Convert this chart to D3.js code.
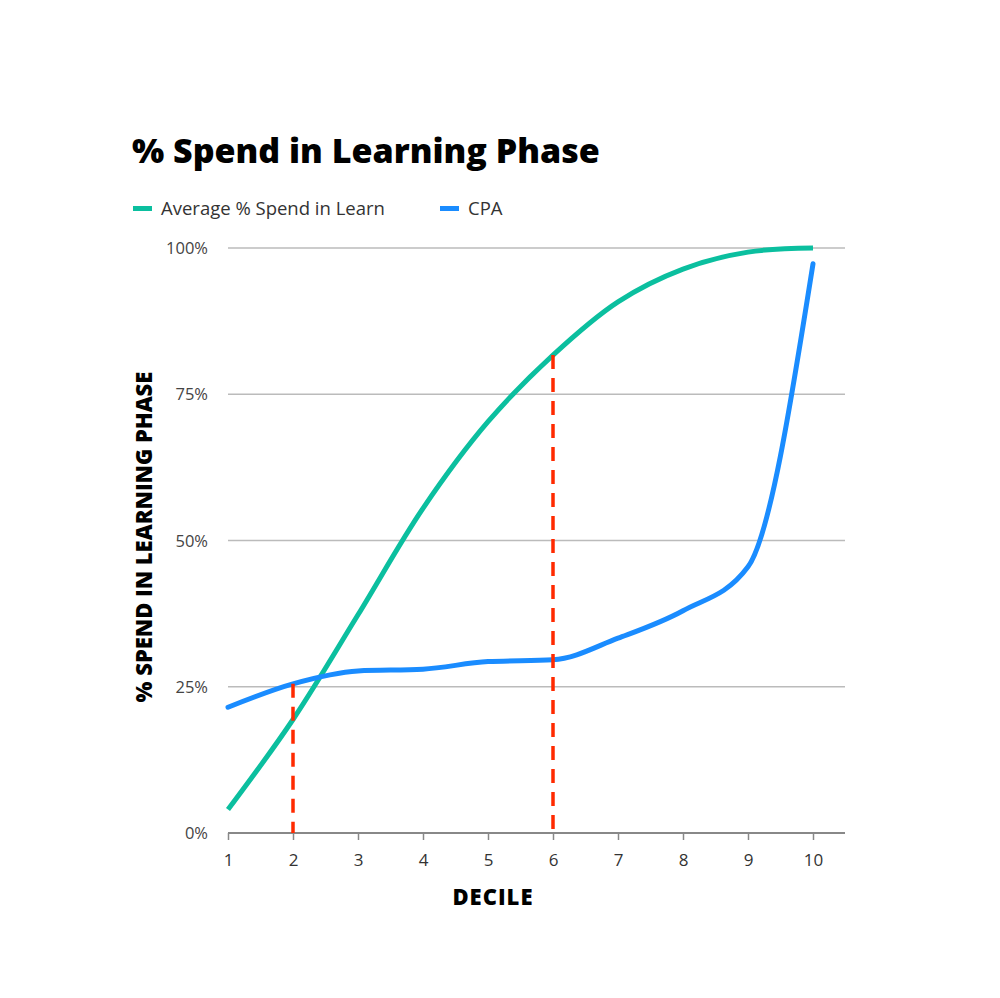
<!DOCTYPE html>
<html><head><meta charset="utf-8">
<script src="https://cdn.jsdelivr.net/npm/d3@7"></script>
<style>body{margin:0;background:#fff}svg{display:block}</style>
</head><body>
<script>
const deciles = [1,2,3,4,5,6,7,8,9,10];
const avgSpend = [4, 19.4, 37.3, 55.5, 70.3, 81.7, 90.8, 96.4, 99.3, 100];
const cpa = [21.5, 25.5, 27.7, 28, 29.3, 29.6, 33.3, 38, 45.5, 97.3];
const yTicks = [0, 25, 50, 75, 100];
const markers = [{decile:2, series:"cpa"}, {decile:6, series:"avg"}];
const seriesNames = ["Average % Spend in Learn", "CPA"];
const colors = ["#0bbf9f", "#1a8cff"];

const W = 1000, H = 998;
const svg = d3.select("body").append("svg").attr("width", W).attr("height", H);
const x = d3.scaleLinear().domain([1,10]).range([228, 813]);
const y = d3.scaleLinear().domain([0,100]).range([833, 248]);
const font = "'Open Sans', Lato, sans-serif";

svg.append("text").attr("x",132).attr("y",163).attr("font-family",font)
  .attr("font-weight",800).attr("font-size",34).attr("fill","#000").text("% Spend in Learning Phase");

// legend
const legX = [133, 440];
seriesNames.forEach((n,i)=>{
  svg.append("rect").attr("x",legX[i]).attr("y",206).attr("width",19).attr("height",5).attr("fill",colors[i]);
  svg.append("text").attr("x",legX[i]+28).attr("y",215).attr("font-family",font)
    .attr("font-size",18.5).attr("fill","#333").text(n);
});

// grid
yTicks.filter(t=>t>0).forEach(t=>{
  svg.append("line").attr("x1",228).attr("x2",845).attr("y1",y(t)).attr("y2",y(t))
    .attr("stroke","#bbb").attr("stroke-width",1.5);
});
yTicks.forEach(t=>{
  svg.append("text").attr("x",208).attr("y",y(t)+6).attr("text-anchor","end")
    .attr("font-family",font).attr("font-size",16.5).attr("fill","#444").text(t+"%");
});

// x axis
const xAxis = d3.axisBottom(x).tickValues(deciles).tickSize(7).tickSizeOuter(0).tickPadding(14);
const gx = svg.append("g").attr("transform",`translate(0,${y(0)})`).call(xAxis);
gx.select(".domain").attr("d",`M228,0H845`).attr("stroke","#888").attr("stroke-width",2);
gx.selectAll(".tick line").attr("stroke","#888").attr("stroke-width",1.5);
gx.selectAll(".tick text").attr("font-family",font).attr("font-size",17).attr("fill","#333");

svg.append("text").attr("x",493).attr("y",905).attr("text-anchor","middle").attr("font-family",font)
  .attr("font-weight",800).attr("font-size",22).attr("letter-spacing",1).attr("fill","#000").text("DECILE");
svg.append("text").attr("transform","translate(152,537) rotate(-90)").attr("text-anchor","middle")
  .attr("font-family",font).attr("font-weight",800).attr("font-size",22).attr("fill","#000")
  .text("% SPEND IN LEARNING PHASE");

const lineSmooth = d3.line().x((d,i)=>x(deciles[i])).y(d=>y(d)).curve(d3.curveCatmullRom.alpha(0.5));
const lineMono = d3.line().x((d,i)=>x(deciles[i])).y(d=>y(d)).curve(d3.curveMonotoneX);
svg.append("path").attr("d",lineSmooth(avgSpend)).attr("fill","none").attr("stroke",colors[0]).attr("stroke-width",5);
svg.append("path").attr("d",lineMono(cpa)).attr("fill","none").attr("stroke",colors[1]).attr("stroke-width",5).attr("stroke-linecap","round");

markers.forEach(m=>{
  const i = deciles.indexOf(m.decile);
  const v = m.series==="cpa" ? cpa[i] : avgSpend[i];
  svg.append("line").attr("x1",x(m.decile)).attr("x2",x(m.decile)).attr("y1",y(v)).attr("y2",y(0))
    .attr("stroke","#ff2a00").attr("stroke-width",3.5).attr("stroke-dasharray","14,9");
});
</script>
</body></html>
